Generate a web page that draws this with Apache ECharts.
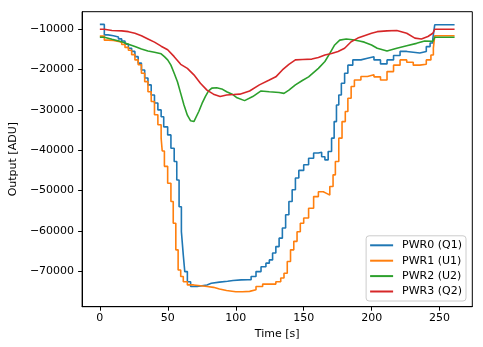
<!DOCTYPE html>
<html>
<head>
<meta charset="utf-8">
<script src="https://cdn.jsdelivr.net/npm/echarts@6/dist/echarts.min.js"></script>
<style>
html,body{margin:0;padding:0;background:#fff;}
#c{width:483px;height:347px;}
</style>
</head>
<body>
<div id="c"></div>
<script>
// ---- data ----
var seriesNames = ['PWR0 (Q1)', 'PWR1 (U1)', 'PWR2 (U2)', 'PWR3 (Q2)'];
var xTicks = [0, 50, 100, 150, 200, 250];
var yTicks = [-70000, -60000, -50000, -40000, -30000, -20000, -10000];

// PWR0 (Q1): step series (time [s], output [ADU])
var pwr0T = [0, 3.3, 6, 10, 13.7, 16.1, 18.5, 21, 23.4, 25.8, 28.2, 30.6, 33, 35.4, 37.8, 40.2, 42.7, 45.1, 47, 49.9, 52.3, 54.7, 56.6, 58.3, 60, 61.4, 62.5, 64.4, 66.8, 71.6, 78.8, 82, 88, 94, 98, 104, 108.9, 111.3, 114.9, 118.6, 122.2, 124.7, 127.1, 129.5, 131.9, 134.3, 136.7, 139.1, 141.5, 143.9, 146.4, 150, 153.6, 157.3, 160.8, 163.2, 165.6, 168, 170.5, 172.4, 174.1, 175.8, 177.7, 180.1, 182.5, 186.1, 192.1, 196.9, 201.7, 206.5, 211.3, 216.1, 220.9, 225.8, 230.6, 235.4, 240.2, 243, 245, 246.4, 261];
var pwr0V = [-8800, -11400, -11600, -11900, -12400, -12900, -13700, -14700, -15500, -16800, -18400, -20100, -22100, -23800, -26300, -28300, -30000, -31700, -34200, -36200, -39500, -42800, -47400, -54000, -60200, -66000, -70100, -72600, -73800, -73400, -73000, -72700, -72500, -72300, -72150, -72100, -72100, -71300, -70100, -68900, -68000, -67200, -65500, -63900, -61800, -59300, -56000, -52700, -49800, -46900, -45000, -43600, -42000, -40700, -40500, -41600, -42400, -40300, -37000, -32900, -28800, -26300, -23400, -20900, -18900, -17600, -17200, -16800, -17600, -18600, -17600, -16500, -15500, -15700, -15900, -15500, -14300, -13400, -12400, -8900, -8900];

// PWR1 (U1): step series
var pwr1T = [0, 3.3, 6, 10, 13.7, 16.1, 18.5, 21, 23.4, 25.8, 28.2, 30.6, 33, 35.4, 37.8, 40.2, 42.7, 45.1, 45.9, 47.5, 49.9, 52.3, 54, 55.9, 57.6, 59.5, 61.4, 64.4, 69, 79, 83.6, 88, 93.2, 100, 105, 110.2, 114.9, 119.8, 124.7, 129.5, 133.1, 135.5, 137.9, 140.3, 142.7, 145.1, 147.5, 150, 153.6, 157.3, 160.8, 164.4, 166.8, 169.2, 171.6, 173.3, 175.8, 178.2, 180.6, 182.5, 184.9, 187.3, 192.1, 196.9, 201.7, 206.5, 211.3, 216.1, 220.9, 225.8, 230.6, 235.4, 240.2, 243.6, 245.4, 246.4, 261];
var pwr1V = [-11700, -12700, -12800, -13000, -13300, -13800, -14500, -15200, -16300, -17600, -18800, -20900, -23000, -25500, -27900, -31200, -33700, -37000, -40200, -44000, -48200, -52700, -58100, -64700, -69700, -71300, -72600, -73400, -73800, -74000, -74400, -74800, -75100, -75100, -75000, -74600, -73800, -73200, -73200, -72600, -71700, -70500, -67600, -64700, -62600, -60200, -58100, -56800, -54400, -51500, -50300, -50700, -51100, -49000, -46100, -42800, -37000, -32900, -30400, -27100, -24200, -22600, -21700, -21300, -21800, -22600, -20500, -18900, -17600, -18200, -18900, -18700, -17600, -16400, -14700, -11600, -11600];

// PWR2 (U2): line series
var pwr2T = [0, 3.3, 3.3, 8.9, 16.1, 21, 25.8, 30.6, 35.4, 40.2, 45.1, 47.5, 49.9, 52.3, 54.7, 57.1, 59.5, 61.9, 64.4, 66.8, 69.2, 70.4, 72.8, 75.2, 77.6, 80, 82.4, 86, 89.7, 93.3, 97.4, 100.5, 106.5, 112.5, 118.6, 124.7, 131.9, 135.5, 139.1, 143.9, 149, 153.6, 160.8, 165.6, 169.2, 172.8, 176.5, 181.3, 186.1, 190.9, 194.6, 199.9, 204.1, 211.3, 218.5, 225.8, 233, 239, 245, 246.4, 246.4, 261];
var pwr2V = [-12000, -12000, -12400, -12500, -13100, -13700, -14300, -14900, -15400, -15700, -16100, -16800, -17600, -18900, -20900, -23000, -25900, -28800, -31300, -32700, -32900, -32500, -30400, -28400, -26700, -25300, -24600, -24500, -24800, -25500, -26100, -26900, -27700, -26700, -25300, -25500, -25700, -25900, -25100, -23800, -22700, -21800, -19700, -18000, -16000, -13900, -12700, -12400, -12600, -12900, -13200, -13900, -14700, -15400, -14700, -14100, -13500, -12900, -13000, -13000, -12000, -12000];

// PWR3 (Q2): line series
var pwr3T = [0, 3.3, 3.3, 8.9, 16.1, 21, 25.8, 30.6, 35.4, 40.2, 45.1, 49.9, 54.7, 59.5, 64.4, 69.2, 74, 78.8, 83.6, 88.5, 93.3, 98.5, 103, 110.2, 117.4, 124.7, 129.5, 134.3, 139.1, 143.9, 149.2, 156, 160.8, 165.6, 170.5, 175.3, 180.1, 184.9, 189.8, 194.6, 199.9, 204.1, 211.3, 218.5, 225.8, 231.8, 236.6, 241.4, 245, 246.4, 246.4, 261];
var pwr3V = [-10000, -10000, -10250, -10300, -10400, -10600, -11000, -11600, -12400, -13200, -14200, -15100, -16800, -18700, -19700, -21300, -23400, -25100, -26100, -26700, -26300, -26200, -26100, -25300, -23800, -22600, -21800, -20100, -18700, -17600, -17500, -17400, -17000, -16400, -16000, -15500, -14700, -13100, -12200, -11600, -11000, -10600, -10400, -10300, -11000, -12200, -12400, -11800, -11000, -11000, -10000, -10000];

var colors = ['#1f77b4', '#ff7f0e', '#2ca02c', '#d62728'];

function zip(t, v) { return t.map(function (x, i) { return [x, v[i]]; }); }

var FONT = 'DejaVu Sans';
var chart = echarts.init(document.getElementById('c'), null, { renderer: 'canvas' });

function mkSeries(i, t, v, step) {
  return {
    name: seriesNames[i],
    type: 'line',
    data: zip(t, v),
    step: step ? 'end' : false,
    showSymbol: false,
    symbol: 'none',
    lineStyle: { color: colors[i], width: 1.6 },
    itemStyle: { color: colors[i] },
    clip: true,
    z: 3 + i
  };
}

chart.setOption({
  animation: false,
  backgroundColor: '#fff',
  textStyle: { fontFamily: FONT },
  grid: {
    left: 75.3, right: 10.7, top: 11.7, bottom: 40.3,
    show: true, borderColor: '#000', borderWidth: 1, backgroundColor: 'transparent'
  },
  xAxis: {
    type: 'value', min: -13.05, max: 274.05,
    name: 'Time [s]', nameLocation: 'middle', nameGap: 20,
    nameTextStyle: { fontFamily: FONT, fontSize: 11, color: '#000' },
    axisLine: { show: true, onZero: false, lineStyle: { color: '#000', width: 1 } },
    axisTick: { show: true, inside: false, length: 4, customValues: xTicks, lineStyle: { color: '#000' } },
    axisLabel: { customValues: xTicks, margin: 6, fontFamily: FONT, fontSize: 11, color: '#000',
      showMinLabel: true, showMaxLabel: true },
    splitLine: { show: false }
  },
  yAxis: {
    type: 'value', min: -78800, max: -5650,
    name: 'Output [ADU]', nameLocation: 'middle', nameGap: 57, nameRotate: 90,
    nameTextStyle: { fontFamily: FONT, fontSize: 11, color: '#000' },
    axisLine: { show: true, onZero: false, lineStyle: { color: '#000', width: 1 } },
    axisTick: { show: true, inside: false, length: 4, customValues: yTicks, lineStyle: { color: '#000' } },
    axisLabel: { customValues: yTicks, margin: 8, fontFamily: FONT, fontSize: 11, color: '#000',
      formatter: function (v) { return String(v).replace('-', '\u2212'); } },
    splitLine: { show: false }
  },
  legend: {
    orient: 'vertical',
    right: 17, bottom: 46,
    data: seriesNames,
    icon: 'rect',
    itemWidth: 23, itemHeight: 2,
    itemGap: 2.4,
    padding: [3, 4, 3, 4],
    backgroundColor: 'rgba(255,255,255,0.8)',
    borderColor: '#cccccc', borderWidth: 1, borderRadius: 3,
    textStyle: { fontFamily: FONT, fontSize: 11, color: '#000', lineHeight: 13, padding: [0, 0, 0, 4] }
  },
  series: [
    mkSeries(0, pwr0T, pwr0V, true),
    mkSeries(1, pwr1T, pwr1V, true),
    mkSeries(2, pwr2T, pwr2V, false),
    mkSeries(3, pwr3T, pwr3V, false)
  ]
});
</script>
</body>
</html>
